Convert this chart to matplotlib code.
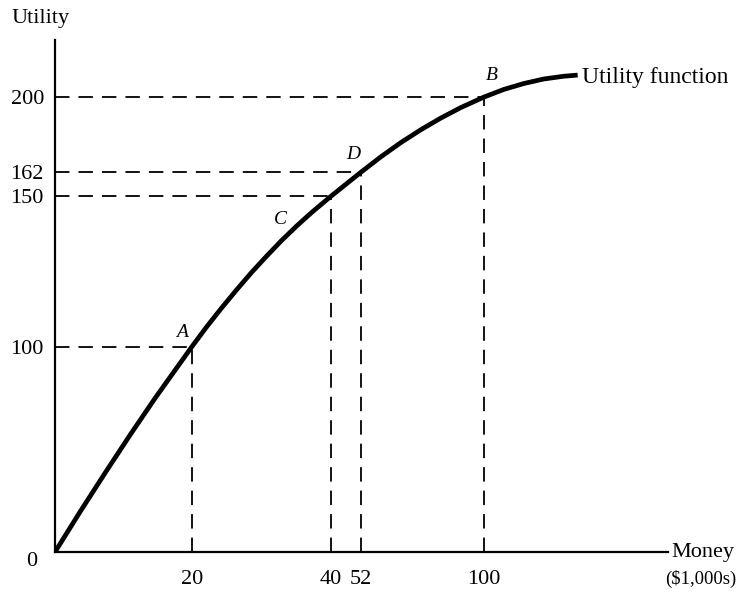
import numpy as np
import matplotlib
matplotlib.use("Agg")
import matplotlib.pyplot as plt

plt.rcParams['font.family'] = ['Liberation Serif', 'DejaVu Serif']

# utility curve (money in $1,000s, utility)
money = [0, 3.65, 7.3, 10.95, 14.6, 20, 22.16, 24.32, 26.47, 28.63, 30.79, 32.95,
         35.11, 37.27, 40, 52, 59.8, 67.6, 75.4, 83.2, 91.0, 100, 107.8, 115.6,
         123.4, 131.2, 136.7]
utility = [0, 19.5, 38.4, 56.9, 74.8, 100, 106.7, 113.0, 119.0, 124.8, 130.2, 135.4,
           140.2, 144.7, 150, 162, 169.8, 177.0, 183.5, 189.4, 194.7, 200, 203.9, 206.9,
           209.2, 210.6, 211.2]

# marked points on the curve
pt_names = ["A", "C", "D", "B"]
pt_money = [20, 40, 52, 100]
pt_util = [100, 150, 162, 200]
x_ticks = [20, 40, 52, 100]
y_ticks = [100, 150, 162, 200]

# the axes in the book are not drawn to scale -> piecewise linear scales
x_anchor = [-20, 0, 20, 40, 52, 100, 200]
x_pos = [-137, 0, 137, 276, 306, 429, 685]
y_anchor = [-50, 0, 100, 150, 162, 200, 260]
y_pos = [-102, 0, 205, 355, 379, 454, 572]

def fwd_x(v):
    return np.interp(v, x_anchor, x_pos)

def inv_x(v):
    return np.interp(v, x_pos, x_anchor)

def fwd_y(v):
    return np.interp(v, y_anchor, y_pos)

def inv_y(v):
    return np.interp(v, y_pos, y_anchor)

fig = plt.figure(figsize=(7.42, 5.94), dpi=100)
ax = fig.add_axes([55 / 742, 42 / 594, 613 / 742, 512 / 594])
ax.set_xscale('function', functions=(fwd_x, inv_x))
ax.set_yscale('function', functions=(fwd_y, inv_y))
ax.set_xlim(0, 172)
ax.set_ylim(0, 229)

for s in ['top', 'right']:
    ax.spines[s].set_visible(False)
for s in ['left', 'bottom']:
    ax.spines[s].set_linewidth(1.6)

# dashed guide lines
for x, y in zip(pt_money, pt_util):
    ax.plot([0, x], [y, y], color='black', lw=1.3, dashes=(8, 5))
    ax.plot([x, x], [0, y], color='black', lw=1.3, dashes=(8, 5))

ax.plot(money, utility, color='black', lw=3.4, solid_joinstyle='round',
        solid_capstyle='butt')

label_off = {"A": (-10, 14), "C": (-50, -23), "D": (-8, 18), "B": (8, 22)}
for n, x, y in zip(pt_names, pt_money, pt_util):
    ax.annotate(n, (x, y), xytext=label_off[n], textcoords='offset pixels',
                ha='center', va='center', fontsize=14, style='italic')

ax.annotate("Utility function", (money[-1], utility[-1]), xytext=(4, -2),
            textcoords='offset pixels', ha='left', va='center', fontsize=17)

ax.set_xticks(x_ticks)
ax.set_xticklabels([str(v) for v in x_ticks])
ax.set_yticks(y_ticks)
ax.set_yticklabels([str(v) for v in y_ticks])
ax.minorticks_off()
ax.tick_params(axis='x', length=0, pad=13, labelsize=16)
ax.tick_params(axis='y', length=0, pad=8, labelsize=16)

fig.text(32 / 742, 1 - 562 / 594, "0", ha='center', va='center', fontsize=16)
fig.text(671 / 742, 1 - 552 / 594, "Money", ha='left', va='center', fontsize=16)
fig.text(736 / 742, 1 - 579 / 594, "($1,000s)", ha='right', va='center', fontsize=13.5)
fig.text(41 / 742, 1 - 18 / 594, "Utility", ha='center', va='center', fontsize=16)

fig.savefig("out.png", dpi=100)
